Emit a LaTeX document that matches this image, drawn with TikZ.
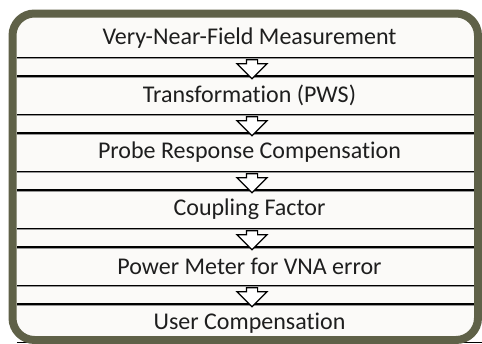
\documentclass[tikz,border=0pt]{standalone}
\usepackage{fontspec}
\setmainfont{Carlito}[Ligatures=CommonOff]
\usetikzlibrary{shapes.arrows, positioning, calc}
\definecolor{frameolive}{RGB}{95,97,72}
\definecolor{paper}{RGB}{251,250,248}
\definecolor{inkgrey}{RGB}{30,30,30}
\definecolor{shadowgrey}{RGB}{150,150,150}

\begin{document}
\begin{tikzpicture}[
    x=1pt, y=-1pt,
    node distance=18.6pt,
    stage/.style={rectangle, minimum width=465pt, minimum height=38pt, inner sep=0pt, font=\fontsize{24}{28}\selectfont, text=inkgrey},
    flow/.style={single arrow, draw, fill=white, line width=1.2pt, rotate=-90, minimum height=19pt, minimum width=30pt, single arrow head extend=9.5pt, inner sep=5pt},
    rule/.style={line width=1.4pt, black},
    ruleshadow/.style={line width=1.2pt, shadowgrey}
]
\useasboundingbox (0,0) rectangle (482,343);

% Paper
\fill[paper, rounded corners=22pt] (12.5,13.5) rectangle (478,340);

% Stages
\node[stage] (vnf) at (249.5,38) {Very-Near-Field Measurement};
\node[stage, below=of vnf] (pws) {Transformation (PWS)};
\node[stage, below=of pws] (probe) {Probe Response Compensation};
\node[stage, below=of probe] (coupling) {Coupling Factor};
\node[stage, below=of coupling] (power) {Power Meter for VNA error};
\node[stage, below=of power] (user) {User Compensation};

% Rules between stages
\foreach \a/\b in {vnf/pws, pws/probe, probe/coupling, coupling/power, power/user} {
    \draw[ruleshadow] ([yshift=-1.3pt]\a.south west) -- ([yshift=-1.3pt]\a.south east);
    \draw[rule] (\a.south west) -- (\a.south east);
    \draw[ruleshadow] ([yshift=-1.3pt]\b.north west) -- ([yshift=-1.3pt]\b.north east);
    \draw[rule] (\b.north west) -- (\b.north east);
    \node[flow] (\a-\b) at ($(\a.south)!0.5!(\b.north)+(2.5,0)$) {};
}
\draw[rule] (user.south west) -- (user.south east);

% Frame
\draw[frameolive, line width=8pt, rounded corners=22pt] (12.5,13.5) rectangle (478,340);

\end{tikzpicture}
\end{document}
